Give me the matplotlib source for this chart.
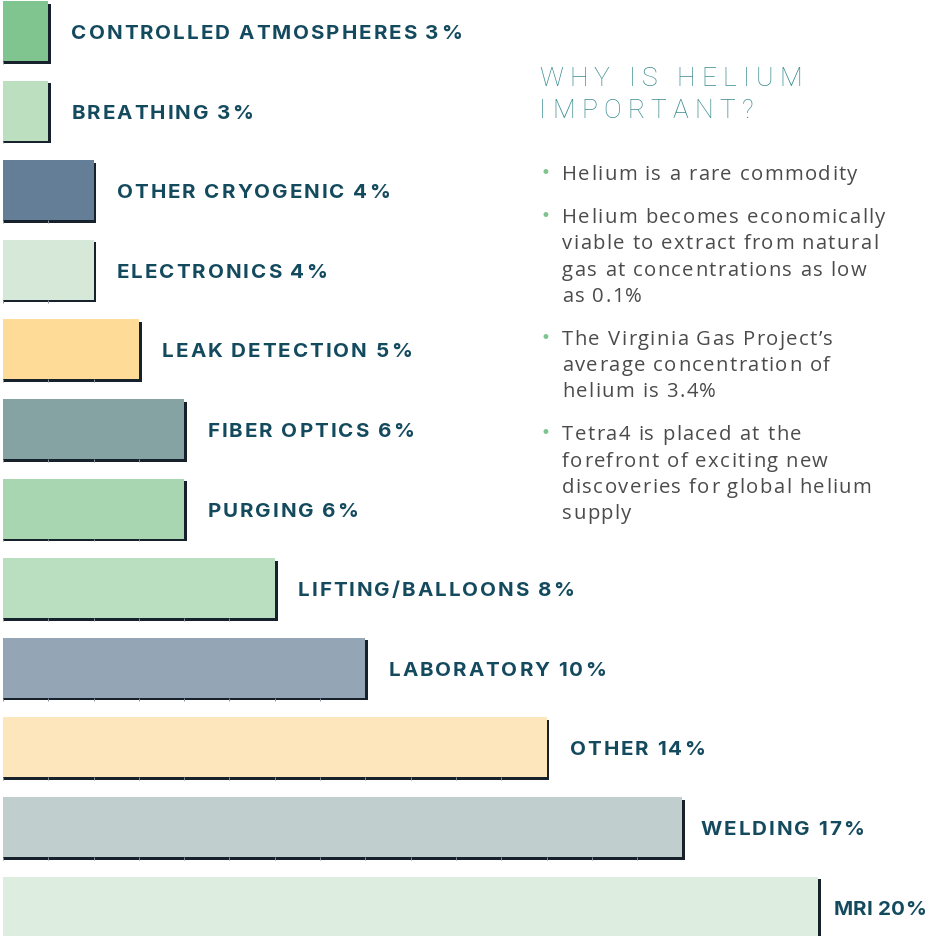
import matplotlib
matplotlib.use("Agg")
import matplotlib.pyplot as plt
import matplotlib.patheffects as pe
from matplotlib.font_manager import FontProperties, findfont, get_font
from matplotlib import _text_helpers
import numpy as np

# ---------------- data ----------------
categories = ["CONTROLLED ATMOSPHERES", "BREATHING", "OTHER CRYOGENIC", "ELECTRONICS",
              "LEAK DETECTION", "FIBER OPTICS", "PURGING", "LIFTING/BALLOONS",
              "LABORATORY", "OTHER", "WELDING", "MRI"]
values = [3, 3, 4, 4, 5, 6, 6, 8, 10, 14, 17, 20]
bar_colors = ["#80c490", "#bbdfbf", "#637e96", "#d6e9d9", "#fedb97", "#85a3a3",
              "#a7d6b1", "#badfc0", "#94a5b5", "#fee6bc", "#c0cece", "#ddede0"]

title_lines = ["WHY IS HELIUM", "IMPORTANT?"]
bullets = [
    ["Helium is a rare commodity"],
    ["Helium becomes economically", "viable to extract from natural",
     "gas at concentrations as low", "as 0.1%"],
    ["The Virginia Gas Project\u2019s", "average concentration of", "helium is 3.4%"],
    ["Tetra4 is placed at the", "forefront of exciting new",
     "discoveries for global helium", "supply"],
]

# ---------------- layout ----------------
W, H, DPI = 928, 936, 100
fig = plt.figure(figsize=(W / DPI, H / DPI), dpi=DPI)
fig.patch.set_facecolor("white")

PX_PER_PCT = 45.3
ROW_PX = 79.6
ax_left_px = 3
ax = fig.add_axes([ax_left_px / W, 0, (W - ax_left_px) / W, 1])
x0 = 2.0
ax.set_xlim(x0, x0 + (W - ax_left_px) / PX_PER_PCT)
ax.set_ylim((H - 31) / ROW_PX, -31 / ROW_PX)
ax.axis("off")

ypos = np.arange(len(values))
bar_h = 60 / ROW_PX
shadow = [pe.SimplePatchShadow(offset=(2.0, -1.8), shadow_rgbFace="#16212c", alpha=1.0),
          pe.Normal()]
bars = ax.barh(ypos, values, height=bar_h, color=bar_colors, linewidth=0)
for b in bars:
    b.set_path_effects(shadow)

# faint tick marks along bottom edges
for y, v in zip(ypos, values):
    ticks = np.arange(1, v)
    ax.vlines(ticks, y + bar_h / 2, y + bar_h / 2 + 0.034, color="#8592a0", lw=0.7, zorder=3)

# ---------------- letter-spaced text helper ----------------
def spaced_layout(s, prop, tracking):
    font = get_font(findfont(prop))
    font.clear()
    font.set_size(prop.get_size_in_points(), DPI)
    items = list(_text_helpers.layout(s, font))
    xs = [it.x + i * tracking for i, it in enumerate(items)]
    last = items[-1]
    g = font.load_glyph(last.glyph_idx)
    width = xs[-1] + g.linearHoriAdvance / 65536
    return items, xs, width

def draw_spaced(x_px, y_px, s, prop, tracking, color):
    items, xs, width = spaced_layout(s, prop, tracking)
    for it, xx in zip(items, xs):
        if it.char == " ":
            continue
        fig.text((x_px + xx) / W, 1 - y_px / H, it.char, fontproperties=prop, color=color,
                 ha="left", va="baseline")
    return width

label_prop = FontProperties(family="Inter", weight="bold", size=14.8)
label_color = "#144a5e"
label_track = 2.0
pad_default = 23
pad_override = {10: 18, 11: 15}
cap_half = 8.0
for i, (cat, v) in enumerate(zip(categories, values)):
    s = f"{cat} {v}%"
    xe, yc = ax.transData.transform((v, i))
    x_px = xe + pad_override.get(i, pad_default)
    track = label_track
    _, _, w = spaced_layout(s, label_prop, track)
    avail = W - 2 - x_px
    if w > avail:
        track = label_track - (w - avail) / (len(s) - 1)
    y_px = H - yc + cap_half
    draw_spaced(x_px, y_px, s, label_prop, track, label_color)

title_prop = FontProperties(family="Roboto", weight="light", size=19)
title_color = "#3a8b8f"
for k, line in enumerate(title_lines):
    draw_spaced(539, 86 + k * 32.3, line, title_prop, 6.3, title_color)

body_prop = FontProperties(family="Open Sans", size=14.6)
body_color = "#4b4b4b"
y = 180
for item in bullets:
    fig.text(545 / W, 1 - (y - 7) / H, "\u2022", color="#7dc48f", fontsize=12,
             ha="center", va="center")
    for line in item:
        draw_spaced(562, y, line, body_prop, 1.4, body_color)
        y += 26.1
    y += 17.2

fig.savefig("out.png", dpi=DPI, facecolor="white")
